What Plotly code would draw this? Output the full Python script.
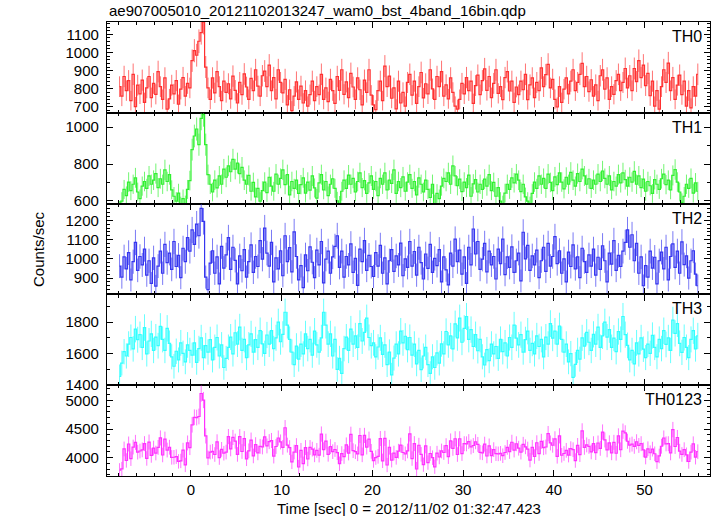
import plotly.graph_objects as go
from plotly.subplots import make_subplots
import math

# 0.25 s bins (16 x 1/64 s) from -8 to 56 s
BIN = 0.25
T0 = -8.0

th0 = [812, 760, 868, 790, 845, 735, 880, 702, 820, 772, 848, 725, 805, 868, 752, 830,
       770, 895, 812, 742, 860, 688, 745, 820, 772, 845, 715, 798, 862, 760, 830, 805,
       955, 1010, 985, 1062, 1110, 1168, 920, 805, 742, 860, 778, 895, 812, 735, 842, 780,
       828, 745, 870, 792, 722, 835, 768, 882, 810, 742, 858, 790, 905, 815, 760, 872,
       898, 812, 930, 790, 862, 745, 905, 835, 778, 852, 712, 795, 680, 760, 838, 742,
       815, 722, 790, 705, 768, 842, 735, 812, 768, 880, 742, 805, 730, 852, 790, 720,
       868, 792, 905, 770, 838, 752, 885, 810, 742, 860, 795, 712, 848, 780, 905, 765,
       712, 685, 790, 842, 735, 925, 812, 870, 748, 805, 690, 842, 722, 780, 705, 835,
       880, 765, 842, 720, 812, 890, 750, 828, 772, 905, 800, 742, 868, 812, 895, 760,
       822, 745, 860, 780, 705, 688, 742, 830, 772, 862, 790, 842, 720, 818, 875, 768,
       845, 910, 792, 868, 752, 830, 905, 775, 812, 740, 862, 895, 788, 842, 725, 810,
       768, 842, 795, 880, 740, 822, 860, 752, 835, 790, 915, 812, 878, 935, 805, 852,
       742, 700, 812, 725, 798, 860, 772, 842, 905, 790, 835, 880, 940, 812, 868, 785,
       850, 760, 822, 735, 872, 905, 798, 860, 742, 812, 770, 845, 880, 790, 835, 912,
       805, 872, 790, 912, 840, 955, 862, 930, 818, 885, 762, 842, 705, 790, 688, 812,
       905, 835, 942, 790, 862, 742, 820, 875, 768, 842, 705, 790, 695, 812, 760, 880]

th1 = [552, 598, 662, 628, 702, 655, 690, 725, 648, 612, 680, 705, 668, 735, 690, 712,
       748, 672, 720, 690, 768, 705, 742, 660, 625, 598, 642, 575, 612, 580, 662, 710,
       878, 952, 990, 905, 1048, 1068, 905, 742, 690, 648, 712, 670, 735, 690, 772, 728,
       790, 758, 825, 772, 805, 748, 782, 712, 690, 738, 652, 700, 622, 668, 598, 655,
       702, 645, 728, 680, 652, 745, 690, 722, 768, 688, 742, 632, 705, 668, 712, 640,
       688, 725, 642, 702, 658, 735, 670, 615, 698, 742, 660, 705, 628, 690, 720, 668,
       600, 578, 652, 712, 668, 740, 690, 722, 648, 705, 752, 672, 710, 640, 698, 735,
       662, 705, 628, 722, 690, 752, 660, 712, 695, 768, 640, 705, 672, 730, 652, 702,
       742, 668, 705, 632, 725, 690, 648, 712, 662, 618, 690, 585, 640, 612, 680, 722,
       705, 752, 690, 790, 735, 682, 718, 650, 702, 672, 740, 625, 692, 715, 648, 690,
       662, 718, 680, 742, 655, 700, 625, 672, 598, 580, 642, 690, 662, 725, 698, 745,
       712, 650, 690, 622, 598, 575, 640, 702, 668, 735, 690, 722, 668, 745, 700, 655,
       730, 688, 752, 702, 665, 728, 690, 755, 712, 680, 748, 705, 772, 735, 690, 720,
       668, 712, 690, 745, 705, 762, 722, 690, 735, 660, 705, 680, 742, 698, 752, 715,
       680, 728, 702, 760, 690, 735, 672, 718, 652, 705, 682, 640, 715, 690, 662, 720,
       745, 688, 712, 660, 738, 770, 702, 648, 592, 625, 690, 668, 722, 642, 698, 652]

th2 = [962, 905, 1010, 948, 1032, 890, 985, 1085, 940, 1012, 968, 1050, 915, 990, 872, 1005,
       858, 962, 1040, 925, 1075, 980, 1030, 945, 1090, 960, 1018, 902, 1055, 985, 1110, 1040,
       1150, 1075, 1180, 1120, 1262, 1195, 905, 840, 978, 1042, 925, 1010, 870, 1065, 952, 1020,
       1110, 945, 1060, 992, 870, 1015, 938, 1048, 905, 985, 1072, 930, 1012, 960, 1095, 998,
       1160, 1030, 962, 1085, 880, 1005, 948, 1042, 912, 1120, 985, 1058, 932, 1140, 1012, 890,
       965, 850, 1020, 938, 1062, 982, 902, 1045, 968, 1090, 875, 998, 1040, 925, 1010, 1065,
       1120, 955, 1040, 905, 1012, 968, 1078, 930, 1002, 862, 1050, 985, 1095, 940, 1018, 960,
       908, 1032, 962, 1070, 925, 1005, 870, 990, 1048, 935, 1015, 968, 1082, 912, 1000, 955,
       1090, 962, 1038, 915, 1060, 980, 895, 1025, 950, 1075, 930, 1002, 965, 1048, 880, 1010,
       942, 865, 1030, 962, 1102, 985, 1045, 920, 1010, 872, 1060, 968, 1155, 1025, 1090, 945,
       998, 1080, 932, 1040, 968, 1012, 895, 1050, 975, 1102, 918, 1010, 955, 1062, 930, 990,
       1030, 885, 1138, 1000, 1070, 940, 1015, 968, 1045, 902, 990, 1060, 935, 1080, 962, 1012,
       1115, 975, 1042, 925, 1000, 880, 1035, 960, 1072, 948, 1010, 902, 1055, 985, 930, 1020,
       962, 1050, 915, 1008, 945, 1068, 990, 880, 1030, 972, 1095, 940, 1018, 960, 1040, 1085,
       1150, 1060, 1125, 990, 1080, 925, 1010, 860, 965, 905, 1040, 952, 1008, 870, 990, 1035,
       948, 1060, 890, 1012, 1078, 955, 1040, 925, 1088, 970, 1015, 900, 990, 1042, 920, 860]

th3 = [1455, 1540, 1612, 1585, 1660, 1702, 1630, 1755, 1688, 1720, 1640, 1765, 1598, 1680, 1725, 1620,
       1705, 1650, 1772, 1690, 1620, 1760, 1665, 1580, 1520, 1615, 1560, 1668, 1602, 1548, 1655, 1620,
       1590, 1668, 1545, 1632, 1700, 1575, 1650, 1610, 1688, 1560, 1640, 1702, 1585, 1655, 1512, 1570,
       1640, 1705, 1598, 1732, 1660, 1768, 1620, 1690, 1575, 1655, 1725, 1610, 1688, 1640, 1745, 1662,
       1602, 1718, 1660, 1745, 1632, 1700, 1800, 1675, 1722, 1862, 1780, 1690, 1610, 1530, 1648, 1565,
       1660, 1598, 1725, 1632, 1690, 1590, 1742, 1655, 1610, 1700, 1862, 1780, 1660, 1725, 1585, 1690,
       1500, 1570, 1475, 1632, 1705, 1620, 1755, 1660, 1712, 1640, 1790, 1680, 1735, 1825, 1702, 1650,
       1668, 1580, 1642, 1700, 1595, 1655, 1530, 1610, 1465, 1572, 1660, 1598, 1742, 1668, 1710, 1625,
       1702, 1590, 1660, 1535, 1620, 1498, 1585, 1640, 1530, 1475, 1580, 1512, 1605, 1540, 1662, 1598,
       1740, 1655, 1712, 1630, 1788, 1700, 1825, 1672, 1760, 1835, 1690, 1752, 1645, 1720, 1618, 1690,
       1580, 1528, 1625, 1555, 1660, 1598, 1645, 1570, 1690, 1612, 1668, 1585, 1702, 1640, 1780, 1698,
       1655, 1720, 1610, 1688, 1742, 1620, 1665, 1598, 1712, 1645, 1690, 1580, 1705, 1660, 1790, 1698,
       1742, 1660, 1775, 1690, 1610, 1660, 1548, 1600, 1450, 1532, 1620, 1565, 1700, 1648, 1735, 1672,
       1620, 1722, 1660, 1768, 1640, 1712, 1800, 1705, 1752, 1640, 1698, 1612, 1740, 1690, 1835, 1720,
       1652, 1560, 1620, 1535, 1668, 1598, 1700, 1628, 1575, 1660, 1602, 1715, 1640, 1580, 1690, 1632,
       1745, 1658, 1700, 1620, 1812, 1728, 1790, 1665, 1608, 1702, 1640, 1575, 1690, 1745, 1630, 1712]

assert len(th0) == len(th1) == len(th2) == len(th3) == 256, (len(th0), len(th1), len(th2), len(th3))

# TH0123 is the sum of the four bands
th0123 = [a + b + c + d for a, b, c, d in zip(th0, th1, th2, th3)]

time = [T0 + BIN * (i + 0.5) for i in range(len(th0))]

band_names = ["TH0", "TH1", "TH2", "TH3", "TH0123"]
band_values = [th0, th1, th2, th3, th0123]
band_colors = ["#ff3030", "#30f030", "#3535f0", "#30ffff", "#ff30ff"]
err_colors = ["rgba(255,40,40,0.65)", "rgba(40,240,40,0.65)", "rgba(50,50,240,0.65)",
              "rgba(40,255,255,0.7)", "rgba(255,40,255,0.65)"]
y_ranges = [[668, 1168], [585, 1078], [815, 1287], [1400, 1975], [3680, 5265]]
y_dtick = [100, 200, 100, 200, 500]
y_minor = [20, 100, 20, 100, 100]

x_range = [-9.26, 57.22]
x_ticks = [0, 10, 20, 30, 40, 50]

title_text = "ae907005010_20121102013247_wam0_bst_4band_16bin.qdp"
x_title = "Time [sec] 0 = 2012/11/02 01:32:47.423"
y_title = "Counts/sec"

FONT = "Liberation Sans, Arial, Helvetica, sans-serif"

fig = make_subplots(rows=5, cols=1, shared_xaxes=True, vertical_spacing=0)

for i, (name, vals) in enumerate(zip(band_names, band_values)):
    errs = [math.sqrt(v / BIN) for v in vals]
    fig.add_trace(go.Scatter(
        x=time, y=vals, mode="lines",
        line=dict(color=band_colors[i], width=1.2, shape="hvh"),
        error_y=dict(type="data", array=errs, visible=True,
                     color=err_colors[i], thickness=1, width=0),
        showlegend=False, cliponaxis=True,
    ), row=i + 1, col=1)

    fig.update_yaxes(
        range=y_ranges[i], dtick=y_dtick[i], tick0=0,
        ticks="inside", ticklen=6, tickwidth=1, tickcolor="black",
        minor=dict(dtick=y_minor[i], tick0=0, ticks="inside", ticklen=3,
                   tickcolor="black", showgrid=False),
        showline=True, linecolor="black", linewidth=1.3, mirror="allticks",
        showgrid=False, zeroline=False, ticklabelstandoff=4,
        tickfont=dict(family=FONT, size=15, color="black"),
        row=i + 1, col=1)

    fig.update_xaxes(
        range=x_range, tickvals=x_ticks,
        ticks="inside", ticklen=6, tickwidth=1, tickcolor="black",
        minor=dict(dtick=2, tick0=0, ticks="inside", ticklen=3,
                   tickcolor="black", showgrid=False),
        showline=True, linecolor="black", linewidth=1.3, mirror="allticks",
        showgrid=False, zeroline=False,
        tickfont=dict(family=FONT, size=15, color="black"),
        row=i + 1, col=1)

    fig.add_annotation(
        text=name, xref="x domain" if i == 0 else f"x{i+1} domain",
        yref="y domain" if i == 0 else f"y{i+1} domain",
        x=0.99, y=1.0, xanchor="right", yanchor="top", showarrow=False, yshift=-4,
        font=dict(family=FONT, size=16, color="black"))

fig.add_annotation(text=x_title, xref="paper", yref="paper", x=0.5, y=-32 / 454,
                   xanchor="center", yanchor="middle", showarrow=False,
                   font=dict(family=FONT, size=15, color="black"))
fig.add_annotation(text=y_title, xref="paper", yref="paper", x=-69 / 603, y=0.5,
                   textangle=-90, showarrow=False, xanchor="center", yanchor="middle",
                   font=dict(family=FONT, size=15, color="black"))
fig.add_annotation(text=title_text, xref="paper", yref="paper", x=0.0, y=1.0,
                   xanchor="left", yanchor="bottom", showarrow=False, yshift=1,
                   font=dict(family=FONT, size=15, color="black"))

fig.update_layout(
    width=717, height=516,
    margin=dict(l=107, r=7, t=22, b=40),
    plot_bgcolor="white", paper_bgcolor="white",
    font=dict(family=FONT, color="black"),
)

fig.write_html("out.html",
               config={"displayModeBar": False},
               post_script="document.body.style.margin='0';document.body.style.overflow='hidden';")
